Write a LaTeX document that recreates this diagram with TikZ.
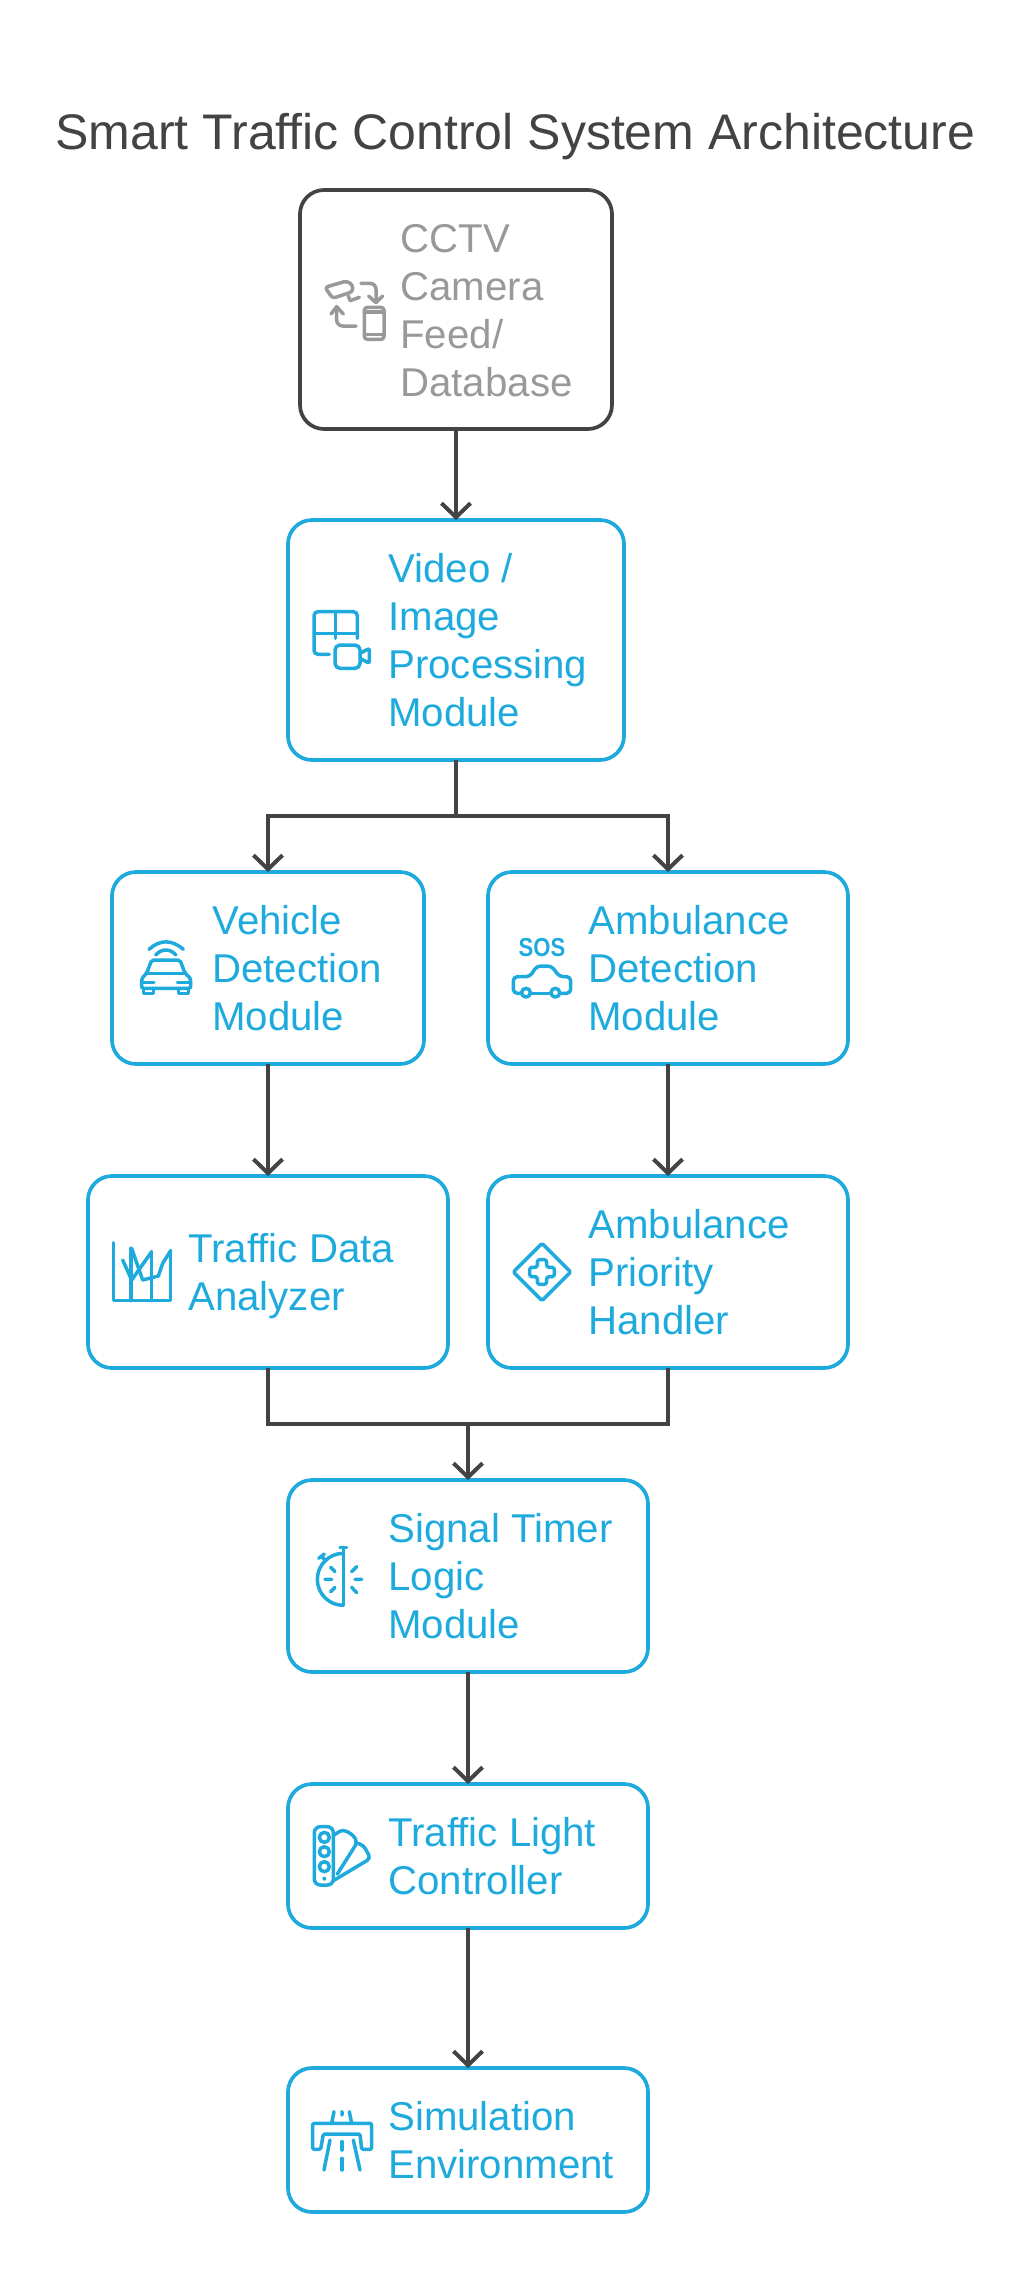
\documentclass[tikz,border=0pt]{standalone}
\usepackage{fontspec}
\setmainfont{Liberation Sans}
\usetikzlibrary{arrows.meta,positioning}
\definecolor{dblue}{HTML}{1EAADC}
\definecolor{dgray}{HTML}{434343}
\definecolor{lgray}{HTML}{999999}

\begin{document}
\begin{tikzpicture}[x=0.5pt,y=-0.5pt,
    bluebox/.style={draw=dblue, line width=1.85pt, rounded corners=12pt, outer sep=0pt, inner sep=0pt},
    darkbox/.style={bluebox, draw=dgray},
    boxtext/.style={anchor=west, inner sep=0pt, align=left, text=dblue,
                    font=\fontsize{20.1}{24}\selectfont,
                    execute at begin node=\strut, execute at end node=\strut},
    conn/.style={dgray, line width=2pt},
    flow/.style={conn, -{Straight Barb[length=7pt,width=14.5pt]}},
    icon/.style={line width=1.75pt, line cap=round, line join=round},
    iconat/.style 2 args={shift={(#1,#2)}, x=0.16667pt, y=-0.16667pt, icon}]

  \useasboundingbox (0,0) rectangle (1032,2281);

  % ----- titulo -----
  \node[anchor=base west, inner sep=0pt, text=dgray, font=\fontsize{25}{28}\selectfont]
    (title) at (55,149) {Smart Traffic Control System Architecture};

  % ----- caixas -----
  \node[darkbox, minimum width=156pt, minimum height=119.5pt] (cctv) at (456,309.5) {};
  \node[bluebox, minimum width=168pt, minimum height=120pt] (video) at (456,640) {};
  \node[bluebox, minimum width=156pt, minimum height=96pt] (vehicle) at (268,968) {};
  \node[bluebox, minimum width=180pt, minimum height=96pt] (ambdetect) at (668,968) {};
  \node[bluebox, minimum width=180pt, minimum height=96pt] (analyzer) at (268,1272) {};
  \node[bluebox, minimum width=180pt, minimum height=96pt] (priority) at (668,1272) {};
  \node[bluebox, minimum width=180pt, minimum height=96pt] (timer) at (468,1576) {};
  \node[bluebox, minimum width=180pt, minimum height=72pt] (light) at (468,1856) {};
  \node[bluebox, minimum width=180pt, minimum height=72pt] (simul) at (468,2140) {};

  % ----- textos -----
  \node[boxtext, text=lgray] (cctvtxt) at (400,317.5) {CCTV\\Camera\\Feed/\\Database};
  \node[boxtext] (videotxt) at (388,647) {Video /\\Image\\Processing\\Module};
  \node[boxtext] (vehicletxt) at (212,975) {Vehicle\\Detection\\Module};
  \node[boxtext] (ambdetecttxt) at (588,975) {Ambulance\\Detection\\Module};
  \node[boxtext] (analyzertxt) at (188,1279) {Traffic Data\\Analyzer};
  \node[boxtext] (prioritytxt) at (588,1279) {Ambulance\\Priority\\Handler};
  \node[boxtext] (timertxt) at (388,1583) {Signal Timer\\Logic\\Module};
  \node[boxtext] (lighttxt) at (388,1863) {Traffic Light\\Controller};
  \node[boxtext] (simultxt) at (388,2147) {Simulation\\Environment};

  % ----- conectores -----
  \coordinate (split) at (456,816);
  \coordinate (merge) at (468,1424);
  \draw[flow] (cctv.south) -- (video.north);
  \draw[conn] (video.south) -- (split);
  \draw[flow] (split) -| (vehicle.north);
  \draw[flow] (split) -| (ambdetect.north);
  \draw[flow] (vehicle.south) -- (analyzer.north);
  \draw[flow] (ambdetect.south) -- (priority.north);
  \draw[conn] (analyzer.south) |- (merge);
  \draw[conn] (priority.south) |- (merge);
  \draw[flow] (merge) -- (timer.north);
  \draw[flow] (timer.south) -- (light.north);
  \draw[flow] (light.south) -- (simul.north);

  % ----- icones -----
  % camera e telefone
  \begin{scope}[iconat={280}{170}, lgray]
    \draw[rounded corners=1.5pt] (135,352) -- (200,333) -- (218,345) -- (218,365) -- (158,385) -- cycle;
    \draw (205,378) -- (210,392) -- (238,382);
    \draw[rounded corners=3pt] (243,340) -- (288,340) -- (288,395);
    \draw (266,378) -- (288,398) -- (308,378);
    \draw[rounded corners=3pt] (228,468) -- (170,468) -- (170,410);
    \draw (153,432) -- (170,410) -- (190,432);
    \draw[rounded corners=1.5pt] (253,412) rectangle (312,508);
    \draw (253,426) -- (312,426) (253,494) -- (312,494);
  \end{scope}
  % grade e video
  \begin{scope}[iconat={280}{510}, dblue]
    \draw[rounded corners=2pt] (232,385) -- (232,305) -- (102,305) -- (102,433) -- (148,433);
    \draw (102,370) -- (232,370) (167,305) -- (167,385);
    \draw[rounded corners=2.5pt] (165,405) rectangle (240,475);
    \draw[rounded corners=1pt] (240,430) -- (268,415) -- (268,460) -- (240,445);
  \end{scope}
  % carro com sinal
  \begin{scope}[iconat={100}{860}, dblue]
    \draw (147,268) .. controls (180,238) and (215,238) .. (250,268);
    \draw (167,285) .. controls (185,265) and (210,265) .. (228,285);
    \draw[rounded corners=1pt] (155,300) -- (240,300) -- (255,340) -- (272,355) -- (272,385)
      -- (125,385) -- (125,355) -- (140,340) -- cycle;
    \draw (140,340) -- (255,340);
    \draw (125,368) -- (162,368) (232,368) -- (272,368);
    \draw (130,385) -- (130,400) -- (160,400) -- (160,385);
    \draw (235,385) -- (235,400) -- (265,400) -- (265,385);
  \end{scope}
  % carro com SOS
  \begin{scope}[iconat={480}{860}, dblue]
    \node[text=dblue, inner sep=0pt, xscale=0.85, font=\bfseries\fontsize{13}{14}\selectfont] (sostxt) at (186,262) {SOS};
    \draw[rounded corners=2pt] (124,400) -- (100,400) -- (100,350) -- (150,350) -- (170,318)
      -- (215,318) -- (238,350) -- (272,350) -- (272,400) -- (240,400);
    \draw (152,400) -- (212,400);
    \draw (138,398) circle (2.2pt) (226,398) circle (2.2pt);
  \end{scope}
  % grafico
  \begin{scope}[iconat={80}{1170}, dblue]
    \draw (100,218) -- (100,392) -- (272,392) -- (272,242);
    \draw (153,235) -- (153,392) (214,245) -- (214,392);
    \draw (128,270) -- (155,330) -- (215,245);
    \draw (155,235) -- (188,330) -- (235,318) -- (248,280) -- (272,242);
  \end{scope}
  % losango com cruz
  \begin{scope}[iconat={480}{1170}, dblue]
    \draw[rounded corners=1pt] (186,220) -- (272,306) -- (186,392) -- (100,306) -- cycle;
    \draw[rounded corners=1.2pt] (172,269) -- (200,269) -- (200,292) -- (223,292) -- (223,320)
      -- (200,320) -- (200,343) -- (172,343) -- (172,320) -- (149,320) -- (149,292) -- (172,292) -- cycle;
  \end{scope}
  % cronometro
  \begin{scope}[iconat={280}{1480}, dblue]
    \draw (190,220) arc (270:90:78);
    \draw (190,202) -- (190,376) (180,202) -- (200,202);
    \draw (116,235) -- (133,222) (125,229) -- (138,243);
    \draw (152,262) -- (165,275) (135,298) -- (155,298) (152,335) -- (165,322);
    \draw (215,275) -- (230,260) (225,298) -- (245,298) (215,322) -- (230,338);
  \end{scope}
  % semaforo
  \begin{scope}[iconat={280}{1780}, dblue]
    \draw[rounded corners=3pt] (103,140) rectangle (160,315);
    \draw (133,172) circle (2.5pt) (133,215) circle (2.5pt) (133,260) circle (2.5pt);
    \fill (133,296) circle (1pt);
    \draw[rounded corners=2pt] (162,165) -- (188,148) -- (220,165) -- (232,187) -- (172,282);
    \draw[rounded corners=2pt] (232,190) -- (250,195) -- (272,235) -- (160,302);
  \end{scope}
  % estrada
  \begin{scope}[iconat={280}{2060}, dblue]
    \draw[rounded corners=0.7pt] (98,190) -- (275,190) -- (275,268) -- (245,268) -- (240,222)
      -- (130,222) -- (122,268) -- (98,268) -- cycle;
    \draw (155,190) -- (162,155) (215,190) -- (208,155) (186,155) -- (186,165);
    \draw (150,240) -- (132,330) (220,240) -- (240,330);
    \draw (186,245) -- (186,270) (186,295) -- (186,330);
  \end{scope}

\end{tikzpicture}
\end{document}
